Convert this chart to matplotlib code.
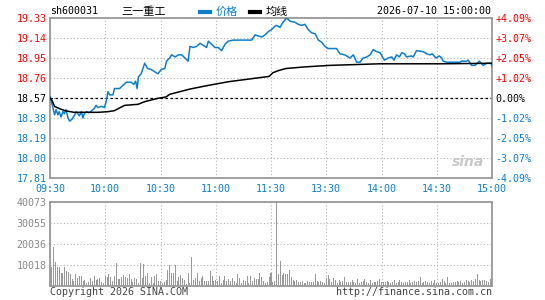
import numpy as np
import matplotlib
matplotlib.use("Agg")
import matplotlib.pyplot as plt
from matplotlib.lines import Line2D

plt.rcParams['font.family'] = ['DejaVu Sans Mono', 'Noto Sans CJK SC']

# ---- data ----
prev_close = 18.57
price_ticks = [17.81, 18.00, 18.19, 18.38, 18.57, 18.76, 18.95, 19.14, 19.33]
pct_labels = ['-4.09%', '-3.07%', '-2.05%', '-1.02%', '0.00%',
              '+1.02%', '+2.05%', '+3.07%', '+4.09%']
time_labels = ['09:30', '10:00', '10:30', '11:00', '11:30',
               '13:30', '14:00', '14:30', '15:00']
time_pos = [0, 30, 60, 90, 120, 150, 180, 210, 240]
vol_ticks = [10018, 20036, 30055, 40073]

price_t = [0, 1, 2.5, 3.3, 4.3, 5, 6, 7, 7.8, 8.7, 9.8, 10.7, 12, 13.4, 14.3, 15.2, 16, 17,
           17.9, 18.8, 20, 21, 22, 24, 25, 26, 28, 29.6, 30.5, 31.5, 32.4, 34.2, 35, 37.8,
           39.6, 41.4, 44, 45.5, 46.5, 47.3, 48, 49.5, 51.4, 53, 55, 56.8, 58.6, 60.4, 62.3,
           63.3, 65, 66, 68, 69.7, 71.5, 73.3, 75, 76, 77.8, 79.6, 81.4, 83.2, 85, 86, 87.7,
           89.5, 91.3, 93.2, 95, 96.8, 99.6, 109.5, 111.3, 113, 115, 116.8, 118.5, 120.3,
           122, 123, 124.9, 125.8, 127, 128.5, 130.3, 133, 134.8, 136.6, 138.4, 140.2, 142,
           144, 145.7, 147.5, 149.3, 151, 155.6, 157.4, 160, 162.9, 164.7, 166.5, 168.3,
           170, 172, 173.8, 175.5, 177.4, 179.2, 181.5, 183.7, 185.5, 186.8, 188.2, 189.7,
           191, 192.5, 193.6, 196.3, 197.2, 199, 202.7, 204.5, 206.4, 207.5, 209.6, 211.4,
           212.7, 213.5, 215.4, 222.6, 223.5, 226.2, 227.1, 228.9, 230.7, 233.1, 235.2,
           237.1, 239.5, 240]
price_v = [18.58, 18.52, 18.41, 18.46, 18.41, 18.44, 18.39, 18.44, 18.42, 18.46, 18.38, 18.35,
           18.37, 18.41, 18.44, 18.42, 18.40, 18.44, 18.38, 18.43, 18.44, 18.43, 18.44, 18.47,
           18.50, 18.48, 18.49, 18.48, 18.54, 18.63, 18.60, 18.60, 18.66, 18.66, 18.69, 18.72,
           18.72, 18.70, 18.73, 18.66, 18.77, 18.80, 18.90, 18.85, 18.84, 18.82, 18.80, 18.84,
           18.85, 18.92, 18.95, 18.98, 18.96, 18.98, 18.98, 18.95, 18.92, 19.06, 19.05, 19.06,
           19.09, 19.07, 19.05, 19.11, 19.08, 19.05, 19.05, 19.02, 19.08, 19.11, 19.12, 19.12,
           19.17, 19.16, 19.15, 19.17, 19.20, 19.22, 19.25, 19.26, 19.24, 19.27, 19.30, 19.33,
           19.30, 19.29, 19.27, 19.26, 19.27, 19.22, 19.19, 19.18, 19.12, 19.10, 19.06, 19.04,
           19.04, 18.99, 18.98, 18.95, 18.98, 18.91, 18.91, 18.95, 18.96, 18.98, 19.03, 19.01,
           19.00, 18.93, 18.95, 18.96, 18.93, 18.98, 18.96, 19.00, 18.99, 18.96, 18.97, 18.96,
           19.02, 19.01, 18.99, 18.98, 18.99, 18.95, 18.97, 18.95, 18.92, 18.91, 18.91, 18.92,
           18.92, 18.93, 18.88, 18.88, 18.92, 18.88, 18.90, 18.90, 18.87]

avg_t = [0, 1, 2.5, 5, 8, 13, 26, 31.5, 35, 40.5, 47.8, 51.4, 58.6, 63, 65, 76, 86, 97, 108,
         116.7, 119, 121, 124, 128, 138, 152, 179, 212, 240]
avg_v = [18.57, 18.55, 18.49, 18.47, 18.45, 18.434, 18.434, 18.44, 18.45, 18.50, 18.51,
         18.535, 18.567, 18.58, 18.605, 18.655, 18.69, 18.725, 18.75, 18.77, 18.775, 18.81,
         18.83, 18.85, 18.865, 18.88, 18.895, 18.895, 18.90]

vol_am = [3000, 8900, 18800, 11600, 9200, 9200, 6400, 6400, 9200, 7200, 6800, 5700, 3500, 2500,
          5900, 4000, 4600, 4900, 2500, 3000, 1400, 1900, 4000, 2500, 4900, 3000, 3300, 4000,
          2000, 1400, 4900, 4300, 5900, 4500, 2500, 4900, 11100, 3200, 3500, 4300, 5400, 4500,
          3800, 5900, 3200, 2000, 4000, 3300, 1400, 11100, 4000, 10500, 4600, 6400, 1400, 4500,
          1400, 4900, 5900, 2500, 2500, 1400, 2000, 3000, 7800, 10000, 6400, 6400, 10200, 2500,
          4500, 5400, 4000, 2900, 1000, 6400, 1400, 14000, 3000, 3800, 6400, 2500, 4000, 4900,
          2500, 2200, 2200, 7300, 4900, 2500, 3000, 2500, 4900, 1400, 2900, 4900, 2500, 3300,
          2500, 4000, 2500, 1400, 5900, 4000, 1400, 3000, 2500, 4900, 1400, 4900, 2500, 4000,
          3500, 3300, 6400, 4500, 2500, 1400, 2000, 4500, 6400, 2000, 2500]
vol_spike = [40073]
vol_pm = [5900, 12100, 5200, 6400, 5900, 5900, 7800, 4500, 3000, 2500, 3000, 2000, 2000, 2500,
          1400, 1400, 2500, 2000, 2000, 2000, 5900, 2500, 2000, 2500, 2000, 1400, 4000, 5400,
          3300, 2000, 4000, 3000, 1400, 3000, 2000, 2500, 4500, 2000, 2000, 2000, 3000, 2000,
          1400, 3500, 1400, 2000, 2500, 3500, 2000, 1400, 3000, 1400, 2000, 2000, 2500, 3500,
          2000, 2000, 2000, 2500, 2000, 1400, 2000, 3000, 1400, 2000, 3000, 2000, 1400, 2000,
          2000, 3000, 1400, 2000, 2500, 2000, 2500, 4500, 1400, 2000, 2500, 2000, 1400, 2500,
          1400, 3000, 1400, 1400, 2000, 3500, 2500, 1400, 4500, 1400, 1400, 2000, 2000, 2500,
          2000, 2500, 1400, 2000, 3000, 2500, 2000, 3000, 2500, 3500, 5900, 3000, 2500, 3000,
          3000, 2500, 2000, 3500, 4000]
volume = vol_am + vol_spike + vol_pm

# ---- styling ----
W, H = 545, 300
blue = '#0a7fcf'
red = '#ff0000'
frame = '#999999'
gridc = '#b0b0b0'

fig = plt.figure(figsize=(W / 100, H / 100), dpi=100)

def fx(x):
    return x / W

def fy(y):
    return 1 - y / H

ax = fig.add_axes([fx(50), fy(178), fx(492) - fx(50), fy(18) - fy(178)])
axv = fig.add_axes([fx(50), fy(286), fx(492) - fx(50), fy(202) - fy(286)])

# price panel
ax.plot(price_t, price_v, color=blue, lw=1.1, zorder=3)
ax.plot(avg_t, avg_v, color='black', lw=1.1, zorder=3)
ax.axhline(prev_close, color='black', lw=0.9, ls=(0, (2, 2)), zorder=2)
ax.set_xlim(0, 240)
ax.set_ylim(price_ticks[0], price_ticks[-1])
ax.set_yticks(price_ticks)
ax.set_yticklabels(['%.2f' % p for p in price_ticks], fontsize=7.2)
for lbl, p in zip(ax.get_yticklabels(), price_ticks):
    lbl.set_color(red if p > prev_close + 1e-6 else ('black' if abs(p - prev_close) < 1e-6 else blue))
ax.set_xticks(time_pos)
ax.set_xticklabels(time_labels, fontsize=7.2, color=blue)
ax.tick_params(length=0, pad=2.5)
ax.tick_params(axis='x', pad=4)
ax.grid(True, color=gridc, ls=(0, (1, 2)), lw=0.8)
for s in ax.spines.values():
    s.set_color(frame)
    s.set_linewidth(1.3)

ax2 = ax.twinx()
ax2.set_ylim(price_ticks[0], price_ticks[-1])
ax2.set_yticks(price_ticks)
ax2.set_yticklabels(pct_labels, fontsize=7.2)
for lbl, p in zip(ax2.get_yticklabels(), price_ticks):
    lbl.set_color(red if p > prev_close + 1e-6 else ('black' if abs(p - prev_close) < 1e-6 else blue))
ax2.tick_params(length=0, pad=2.5)
for s in ax2.spines.values():
    s.set_visible(False)

# volume panel
vx = np.linspace(0, 240, len(volume))
axv.bar(vx, volume, width=0.55, color=frame, zorder=3)
axv.set_xlim(0, 240)
axv.set_ylim(0, vol_ticks[-1])
axv.set_yticks(vol_ticks)
axv.set_yticklabels([str(v) for v in vol_ticks], fontsize=7.2, color='#888888')
axv.set_xticks(time_pos)
axv.set_xticklabels([])
axv.tick_params(length=0, pad=2.5)
axv.grid(True, color=gridc, ls=(0, (1, 2)), lw=0.8)
for s in axv.spines.values():
    s.set_color(frame)
    s.set_linewidth(1.3)

# header
fig.text(fx(50), fy(11), 'sh600031', fontsize=7.2, va='center', ha='left')
fig.text(fx(121), fy(12), '三一重工', fontsize=8, va='center', ha='left',
         family=['Noto Sans CJK SC'])
fig.add_artist(Line2D([fx(200), fx(210)], [fy(12), fy(12)], color=blue, lw=3,
                      transform=fig.transFigure))
fig.text(fx(216), fy(12), '价格', fontsize=8, va='center', ha='left', color=blue,
         family=['Noto Sans CJK SC'])
fig.add_artist(Line2D([fx(250), fx(260)], [fy(12), fy(12)], color='black', lw=3,
                      transform=fig.transFigure))
fig.text(fx(266), fy(12), '均线', fontsize=8, va='center', ha='left', color='black',
         family=['Noto Sans CJK SC'])
fig.text(fx(491), fy(11), '2026-07-10 15:00:00', fontsize=7.2, va='center', ha='right')

# footer
fig.text(fx(50), fy(292), 'Copyright 2026 SINA.COM', fontsize=7.2, va='center', ha='left',
         color='#444444')
fig.text(fx(492), fy(292), 'http://finance.sina.com.cn', fontsize=7.2, va='center', ha='right',
         color='#444444')

# watermark
fig.text(fx(468), fy(162), 'sina', fontsize=10, style='italic', weight='bold',
         color='#c8c8c8', ha='center', va='center', family=['DejaVu Sans'])

fig.savefig('out.png', dpi=100)
